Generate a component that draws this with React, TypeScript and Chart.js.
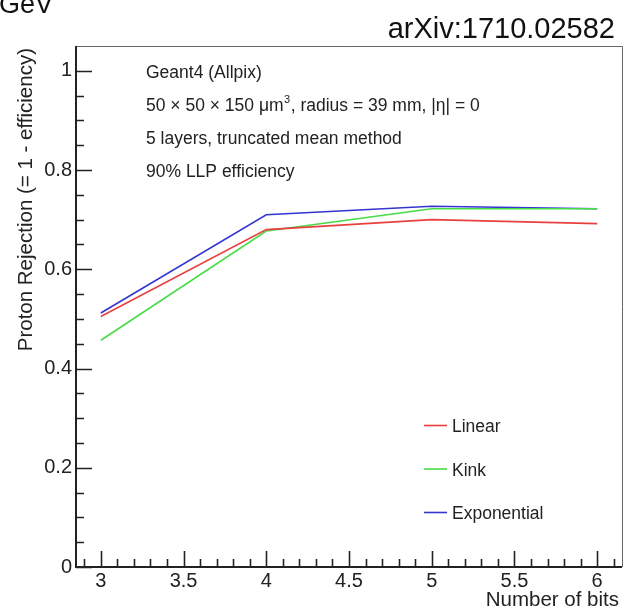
import React, { useEffect, useRef } from 'react';
import { Chart, registerables } from 'chart.js';

Chart.register(...registerables);

// ---- data ----
const bits = [3, 4, 5, 6];
const linearRej = [0.505, 0.68, 0.7, 0.692];
const kinkRej = [0.457, 0.677, 0.722, 0.722];
const expRej = [0.512, 0.71, 0.727, 0.722];
const seriesNames = ['Linear', 'Kink', 'Exponential'];
const seriesColors = ['#e8403f', '#46dc46', '#3535d0'];

const xTicks = [3, 3.5, 4, 4.5, 5, 5.5, 6];
const xTickLabels = ['3', '3.5', '4', '4.5', '5', '5.5', '6'];
const yTicks = [0, 0.2, 0.4, 0.6, 0.8, 1];
const yTickLabels = ['0', '0.2', '0.4', '0.6', '0.8', '1'];

const xTitle = 'Number of bits';
const yTitle = 'Proton Rejection (= 1 - efficiency)';
const infoTitle = 'Geant4 (Allpix)';
const infoLine2a = '50 \u00d7 50 \u00d7 150 \u03bcm';
const infoLine2sup = '3';
const infoLine2b = ', radius = 39 mm, |\u03b7| = 0';
const infoLine3 = '5 layers, truncated mean method';
const infoLine4 = '90% LLP efficiency';
const arxivText = 'arXiv:1710.02582';
const cutText = 'GeV';

const FONT = '"Liberation Sans", Arial, Helvetica, sans-serif';
const INK = '#222222';

const rootPlugin = {
  id: 'rootStyle',
  afterDraw(chart: any) {
    const ctx = chart.ctx as CanvasRenderingContext2D;
    const xs = chart.scales.x;
    const ys = chart.scales.y;
    const { left, right, top, bottom } = chart.chartArea;
    ctx.save();

    // frame
    ctx.strokeStyle = '#666';
    ctx.lineWidth = 1;
    ctx.beginPath();
    ctx.moveTo(left, top + 0.5);
    ctx.lineTo(right + 0.5, top + 0.5);
    ctx.lineTo(right + 0.5, bottom);
    ctx.stroke();
    ctx.strokeStyle = INK;
    ctx.lineWidth = 2;
    ctx.beginPath();
    ctx.moveTo(left, top);
    ctx.lineTo(left, bottom);
    ctx.lineTo(right, bottom);
    ctx.stroke();

    // ticks
    ctx.lineWidth = 1.6;
    ctx.beginPath();
    for (let i = 0; i <= 20; i++) {
      const v = Math.round(i * 5) / 100;
      const y = Math.round(ys.getPixelForValue(v)) + 0.5;
      const major = yTicks.some((t) => Math.abs(t - v) < 1e-6);
      ctx.moveTo(left, y);
      ctx.lineTo(left + (major ? 16 : 8), y);
    }
    for (let i = 29; i <= 61; i++) {
      const v = i / 10;
      const x = Math.round(xs.getPixelForValue(v)) + 0.5;
      const major = xTicks.some((t) => Math.abs(t - v) < 1e-6);
      ctx.moveTo(x, bottom);
      ctx.lineTo(x, bottom - (major ? 16 : 8));
    }
    ctx.stroke();

    // info text
    ctx.fillStyle = INK;
    ctx.textBaseline = 'alphabetic';
    ctx.textAlign = 'left';
    ctx.font = `17.5px ${FONT}`;
    const tx = 146;
    ctx.fillText(infoTitle, tx, 78);
    ctx.fillText(infoLine2a, tx, 111);
    let w = ctx.measureText(infoLine2a).width;
    ctx.font = `11px ${FONT}`;
    ctx.fillText(infoLine2sup, tx + w + 0.5, 103);
    const ws = ctx.measureText(infoLine2sup).width;
    ctx.font = `17.5px ${FONT}`;
    ctx.fillText(infoLine2b, tx + w + ws + 1, 111);
    ctx.fillText(infoLine3, tx, 144);
    ctx.fillText(infoLine4, tx, 177);

    // legend
    const legBase = [432, 475.5, 519];
    chart.data.datasets.forEach((ds: any, i: number) => {
      const by = legBase[i];
      ctx.strokeStyle = ds.borderColor;
      ctx.lineWidth = 1.6;
      ctx.beginPath();
      ctx.moveTo(424, by - 6.5);
      ctx.lineTo(447, by - 6.5);
      ctx.stroke();
      ctx.fillStyle = INK;
      ctx.font = `17.5px ${FONT}`;
      ctx.fillText(ds.label, 452, by);
    });

    // axis titles
    ctx.fillStyle = INK;
    ctx.font = `20.5px ${FONT}`;
    ctx.textAlign = 'right';
    ctx.fillText(xTitle, 619, 606);
    ctx.save();
    ctx.translate(32, 48);
    ctx.rotate(-Math.PI / 2);
    ctx.textAlign = 'right';
    ctx.fillText(yTitle, 0, 0);
    ctx.restore();

    // header texts
    ctx.fillStyle = '#111';
    ctx.font = `29px ${FONT}`;
    ctx.textAlign = 'right';
    ctx.fillText(arxivText, 615, 38);
    ctx.textAlign = 'left';
    ctx.font = `27px ${FONT}`;
    ctx.fillText(cutText, -1, 13);

    ctx.restore();
  },
};

export default function App() {
  const ref = useRef<HTMLCanvasElement | null>(null);
  useEffect(() => {
    document.body.style.margin = '0';
    const canvas = ref.current;
    if (!canvas) return;
    const series = [linearRej, kinkRej, expRej];
    const chart = new Chart(canvas, {
      type: 'line',
      data: {
        datasets: series.map((vals, k) => ({
          label: seriesNames[k],
          data: bits.map((b, i) => ({ x: b, y: vals[i] })),
          borderColor: seriesColors[k],
          backgroundColor: seriesColors[k],
          borderWidth: 1.6,
          pointRadius: 0,
          tension: 0,
          fill: false,
        })),
      },
      options: {
        animation: false,
        responsive: false,
        devicePixelRatio: 1,
        layout: { padding: { top: 46, right: 1, left: 0, bottom: 0 } },
        plugins: { legend: { display: false }, tooltip: { enabled: false } },
        scales: {
          x: {
            type: 'linear',
            min: 2.85,
            max: 6.15,
            grid: { display: false, drawTicks: false },
            border: { display: false },
            afterBuildTicks: (s: any) => {
              s.ticks = xTicks.map((v) => ({ value: v }));
            },
            afterFit: (s: any) => {
              s.height = 46;
            },
            ticks: {
              autoSkip: false,
              maxRotation: 0,
              padding: 2,
              color: INK,
              font: { family: FONT, size: 20 },
              callback: (v: any) => xTickLabels[xTicks.findIndex((t) => Math.abs(t - v) < 1e-6)],
            },
          },
          y: {
            type: 'linear',
            min: 0,
            max: 1.05,
            grid: { display: false, drawTicks: false },
            border: { display: false },
            afterBuildTicks: (s: any) => {
              s.ticks = yTicks.map((v) => ({ value: v }));
            },
            afterFit: (s: any) => {
              s.width = 76;
            },
            ticks: {
              autoSkip: false,
              padding: 4,
              color: INK,
              font: { family: FONT, size: 20 },
              callback: (v: any) => yTickLabels[yTicks.findIndex((t) => Math.abs(t - v) < 1e-6)],
            },
          },
        },
      },
      plugins: [rootPlugin],
    });
    return () => chart.destroy();
  }, []);
  return (
    <div style={{ position: 'absolute', left: 0, top: 0, width: 623, height: 613, background: '#fff' }}>
      <canvas ref={ref} width={623} height={613} style={{ display: 'block' }} />
    </div>
  );
}
